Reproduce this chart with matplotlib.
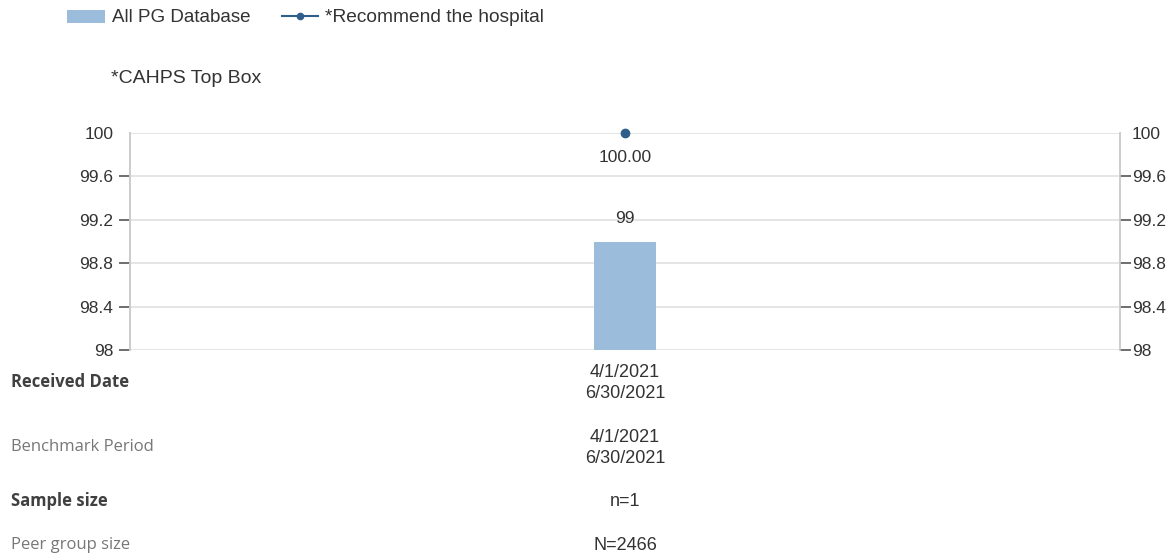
import matplotlib
matplotlib.use("Agg")
import matplotlib.pyplot as plt
from matplotlib.patches import Rectangle
from matplotlib.lines import Line2D

# Data
periods = ["4/1/2021\n6/30/2021"]
pg_database = [99]
recommend_hospital = [100.00]
benchmark_periods = ["4/1/2021\n6/30/2021"]
sample_sizes = ["n=1"]
peer_group_sizes = ["N=2466"]
yticks = [98, 98.4, 98.8, 99.2, 99.6, 100]
ytick_labels = ["98", "98.4", "98.8", "99.2", "99.6", "100"]

BAR_COLOR = "#9bbcdb"
LINE_COLOR = "#2e5f8a"
TEXT = "#333333"
GRID = "#e0e0e0"

chart_font = ["Liberation Sans", "DejaVu Sans"]
table_font = ["Open Sans", "DejaVu Sans"]

W, H = 1174, 558
fig = plt.figure(figsize=(W / 100, H / 100), dpi=100)

left, right, top, bottom = 130, 1120, 133, 350
ax = fig.add_axes([left / W, 1 - bottom / H, (right - left) / W, (bottom - top) / H])

x = list(range(len(periods)))
ax.set_xlim(-0.5, len(periods) - 0.5)
ax.set_ylim(98, 100)

ax.bar(x, pg_database, width=0.063, color=BAR_COLOR, bottom=0, zorder=2)
ax.plot(x, recommend_hospital, color=LINE_COLOR, marker="o", markersize=6,
        linewidth=1.5, zorder=4, clip_on=False)

for xi, v in zip(x, pg_database):
    ax.annotate(f"{v:g}", (xi, v), xytext=(0, 11), textcoords="offset points",
                ha="center", va="bottom", fontsize=12.5, color=TEXT, family=chart_font)
for xi, v in zip(x, recommend_hospital):
    ax.annotate(f"{v:.2f}", (xi, v), xytext=(0, -12), textcoords="offset points",
                ha="center", va="top", fontsize=12.5, color=TEXT, family=chart_font)

# Grid lines
for y in yticks:
    ax.axhline(y, color=GRID, linewidth=1.2, zorder=1)

# Left axis
ax.set_yticks(yticks)
ax.set_yticklabels(ytick_labels, family=chart_font, fontsize=12.5, color=TEXT)
ax.tick_params(axis="y", left=True, right=False, length=8, width=1.2,
               color="#555555", pad=4)
ax.set_xticks([])

# Right axis mirrors the left one
ax2 = ax.twinx()
ax2.set_ylim(ax.get_ylim())
ax2.set_yticks(yticks)
ax2.set_yticklabels(ytick_labels, family=chart_font, fontsize=12.5, color=TEXT)
ax2.tick_params(axis="y", right=True, length=8, width=1.2, color="#555555", pad=0.5)

for a in (ax, ax2):
    for t in a.yaxis.get_major_ticks():
        if abs(t.get_loc() - 100) < 1e-9:
            t.tick1line.set_visible(False)
            t.tick2line.set_visible(False)
    for side in ["left", "right"]:
        a.spines[side].set_color("#cccccc")
        a.spines[side].set_linewidth(1.2)
    for side in ["top", "bottom"]:
        a.spines[side].set_visible(False)


def px(xp, yp):
    return xp / W, 1 - yp / H


# Legend
fig.patches.append(Rectangle(px(67, 23), 38 / W, 13 / H, transform=fig.transFigure,
                             facecolor=BAR_COLOR, edgecolor="none"))
fig.text(*px(112, 17), "All PG Database", fontsize=13.5, family=chart_font,
         color=TEXT, va="center", ha="left")
fig.lines.append(Line2D([282 / W, 318 / W], [1 - 16 / H] * 2, transform=fig.transFigure,
                        color=LINE_COLOR, linewidth=1.5))
fig.lines.append(Line2D([300 / W], [1 - 16 / H], transform=fig.transFigure,
                        color=LINE_COLOR, marker="o", markersize=4.5, linestyle="none"))
fig.text(*px(325, 17), "*Recommend the hospital", fontsize=13.8, family=chart_font,
         color=TEXT, va="center", ha="left")
fig.text(*px(111, 79), "*CAHPS Top Box", fontsize=14, family=chart_font,
         color=TEXT, va="center", ha="left")

# Summary table below the chart
rows = [
    ("Received Date", periods, "bold", "#404040", 382),
    ("Benchmark Period", benchmark_periods, "normal", "#777777", 447),
    ("Sample size", sample_sizes, "bold", "#404040", 501),
    ("Peer group size", peer_group_sizes, "normal", "#777777", 545),
]
for label, vals, weight, col, yp in rows:
    fig.text(*px(11, yp), label, fontsize=12, family=table_font,
             fontweight=weight, color=col, va="center", ha="left")
    for xi, v in zip(x, vals):
        xf = ax.transData.transform((xi, 98))[0] / W
        fig.text(xf, 1 - (yp + 1) / H, v, fontsize=13, family=chart_font,
                 color=TEXT, va="center", ha="center", linespacing=1.3)

fig.savefig("out.png", dpi=100, facecolor="white")
